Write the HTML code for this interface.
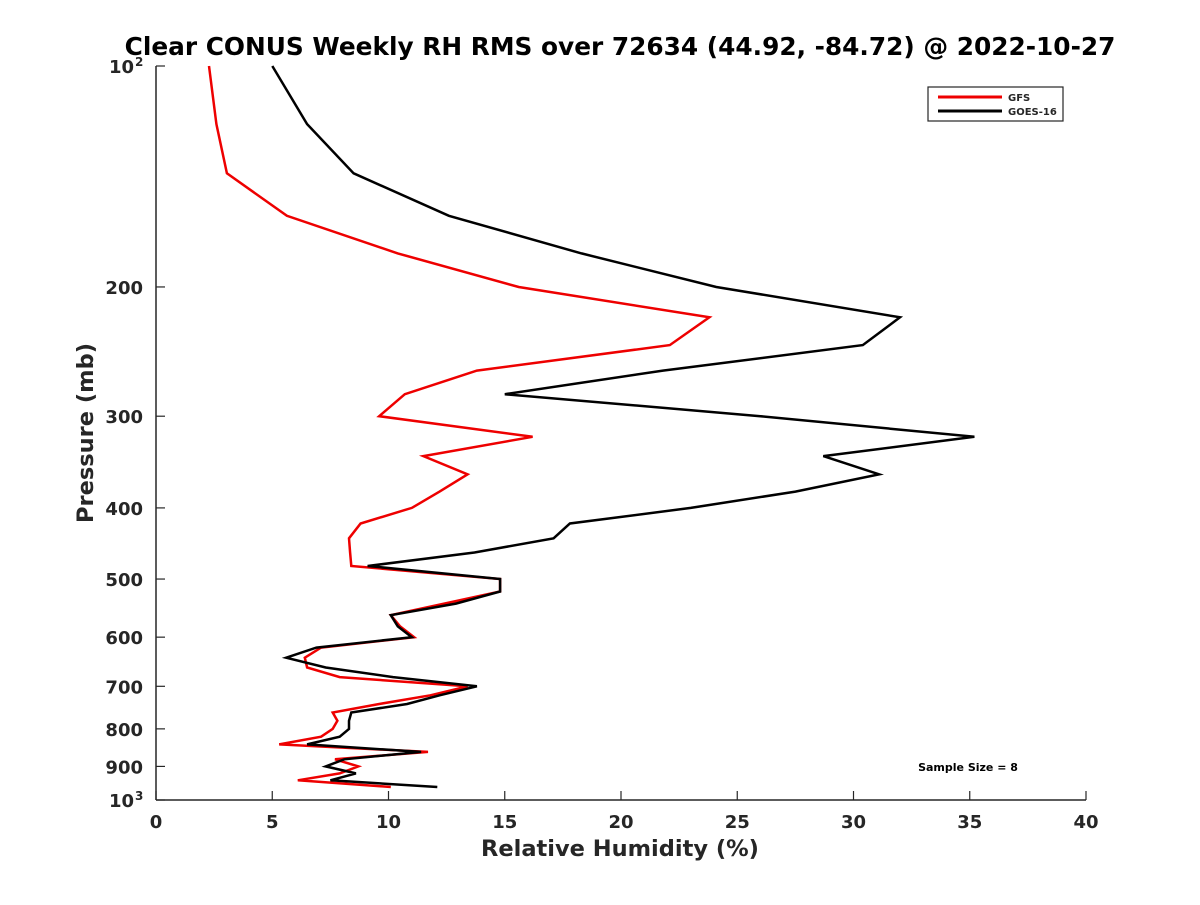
<!DOCTYPE html>
<html><head><meta charset="utf-8"><style>
body{margin:0;background:#fff;}
svg text{font-family:"DejaVu Sans","Liberation Sans",sans-serif;font-weight:bold;fill:#262626;}
</style></head><body>
<svg id="chart" width="1200" height="900">
<text x="620" y="55" font-size="24.8" text-anchor="middle" style="fill:#000">Clear CONUS Weekly RH RMS over 72634 (44.92, -84.72) @ 2022-10-27</text>
<g id="axes"></g>
<g id="series"></g>
<text x="620" y="856" font-size="22.5" text-anchor="middle">Relative Humidity (%)</text>
<text transform="translate(93,433) rotate(-90)" font-size="22.5" text-anchor="middle">Pressure (mb)</text>
<g>
<rect x="928" y="87" width="135" height="34" fill="#fff" stroke="#262626" stroke-width="1.2"/>
<g><line x1="938" y1="97" x2="1002" y2="97" stroke="#e00" stroke-width="3"/><text x="1008" y="101" font-size="10">GFS</text></g>
<g><line x1="938" y1="111" x2="1002" y2="111" stroke="#000" stroke-width="3"/><text x="1008" y="115" font-size="10">GOES-16</text></g>
</g>
<text x="968" y="771" font-size="11" text-anchor="middle" style="fill:#000">Sample Size = 8</text>
</svg>
<script>
const pressures=[100,120,140,160,180,200,220,240,260,280,300,320,340,360,380,400,420,440,460,480,500,520,540,560,580,600,620,640,660,680,700,720,740,760,780,800,820,840,860,880,900,920,940,960];
const gfsValues=[2.28,2.6,3.05,5.63,10.4,15.6,23.8,22.1,13.8,10.7,9.6,16.2,11.5,13.4,12.2,11.0,8.8,8.3,8.35,8.4,14.8,14.8,12.4,10.1,10.5,11.1,7.1,6.4,6.5,7.9,13.4,11.8,9.6,7.6,7.8,7.6,7.1,5.3,11.7,7.7,8.7,7.9,6.1,10.1];
const goesValues=[5.0,6.5,8.5,12.6,18.3,24.1,32.0,30.4,21.8,15.0,26.0,35.2,28.7,31.1,27.5,23.0,17.8,17.1,13.7,9.1,14.8,14.8,12.9,10.1,10.4,11.0,6.9,5.6,7.3,10.2,13.8,12.2,10.8,8.4,8.3,8.3,7.9,6.5,11.4,8.1,7.3,8.6,7.5,12.1];
const xTicks=[0,5,10,15,20,25,30,35,40];
const yTicks=[200,300,400,500,600,700,800,900];
const X0=156,X1=1086,Y0=66,Y1=800;
const sx=v=>X0+(v/40)*(X1-X0);
const sy=p=>Y0+(Math.log10(p)-2)*(Y1-Y0);
const NS="http://www.w3.org/2000/svg";
const axes=document.getElementById('axes'),ser=document.getElementById('series');
function mk(t,a,parent){const e=document.createElementNS(NS,t);for(const k in a)e.setAttribute(k,a[k]);parent.appendChild(e);return e;}
let l=mk('line',{x1:X0,y1:Y1,x2:X1,y2:Y1,stroke:'#262626','stroke-width':1.5},axes);


l=mk('line',{x1:X0,y1:Y0,x2:X0,y2:Y1,stroke:'#262626','stroke-width':1.5},axes);


xTicks.forEach(v=>{const x=sx(v);
 mk('line',{x1:x,y1:Y1,x2:x,y2:Y1-9,stroke:'#262626','stroke-width':1.2},axes);
 const t=mk('text',{x:x,y:828,'font-size':18,'text-anchor':'middle'},axes);t.textContent=v;
 
 });
function ytick(p,label,sup){const y=sy(p);
 mk('line',{x1:X0,y1:y,x2:X0+9,y2:y,stroke:'#262626','stroke-width':1.2},axes);
 const t=mk('text',{x:sup?134:143,y:y+7,'font-size':18,'text-anchor':'end'},axes);
 t.textContent=label;
 
 
 if(sup){const s=mk('text',{x:135,y:y,'font-size':12},axes);s.textContent=sup;}}
ytick(100,'10','2');ytick(1000,'10','3');
yTicks.forEach(p=>ytick(p,String(p)));
function series(vals,color,name){const pts=vals.map((v,i)=>sx(v).toFixed(1)+','+sy(pressures[i]).toFixed(1)).join(' ');
 const e=mk('polyline',{points:pts,fill:'none',stroke:color,'stroke-width':2.5,'stroke-linejoin':'miter'},ser);
 
 }
series(gfsValues,'#e00','gfs-line');
series(goesValues,'#000','goes16-line');
</script>
</body></html>
